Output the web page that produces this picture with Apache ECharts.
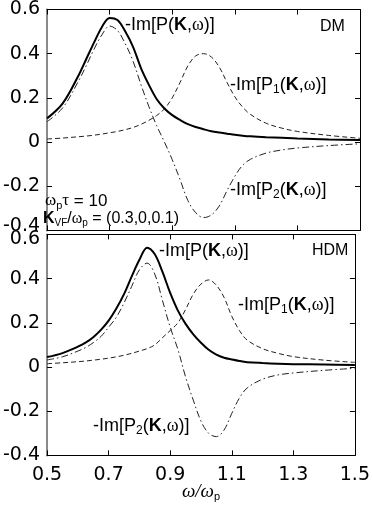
<!DOCTYPE html>
<html><head><meta charset="utf-8">
<script src="https://cdn.jsdelivr.net/npm/echarts@6/dist/echarts.min.js"></script>
<style>html,body{margin:0;padding:0;background:#fff}#c{width:373px;height:515px}</style>
</head><body><div id="c"></div>
<script>
const omega = [0.5,0.55,0.6,0.625,0.65,0.675,0.7,0.725,0.75,0.775,0.8,0.825,0.85,0.875,0.9,0.925,0.95,0.975,1.0,1.025,1.05,1.075,1.1,1.125,1.15,1.2,1.25,1.3,1.4,1.5];
// DM panel
const dmP  = [0.107,0.175,0.30,0.375,0.45,0.52,0.562,0.552,0.50,0.43,0.335,0.26,0.195,0.152,0.122,0.10,0.081,0.068,0.058,0.049,0.043,0.038,0.033,0.029,0.026,0.022,0.019,0.016,0.012,0.009];
const dmP1 = [0.014,0.018,0.024,0.027,0.031,0.036,0.042,0.048,0.056,0.066,0.08,0.098,0.12,0.15,0.20,0.27,0.345,0.39,0.40,0.385,0.34,0.27,0.205,0.158,0.125,0.085,0.063,0.048,0.03,0.017];
const dmP2 = [0.092,0.155,0.275,0.345,0.42,0.485,0.525,0.505,0.445,0.365,0.26,0.162,0.075,0.0,-0.08,-0.17,-0.265,-0.32,-0.342,-0.33,-0.29,-0.22,-0.155,-0.105,-0.078,-0.05,-0.036,-0.027,-0.016,-0.008];
// HDM panel
const hdmP  = [0.045,0.063,0.092,0.11,0.135,0.168,0.21,0.265,0.33,0.41,0.485,0.54,0.51,0.43,0.335,0.255,0.195,0.148,0.11,0.078,0.056,0.042,0.034,0.027,0.022,0.018,0.015,0.013,0.011,0.009];
const hdmP1 = [0.015,0.019,0.024,0.027,0.031,0.035,0.04,0.046,0.053,0.062,0.072,0.083,0.1,0.133,0.165,0.2,0.26,0.33,0.375,0.394,0.37,0.315,0.23,0.165,0.122,0.083,0.062,0.047,0.031,0.021];
const hdmP2 = [0.032,0.046,0.072,0.088,0.11,0.138,0.18,0.225,0.29,0.365,0.44,0.47,0.42,0.3,0.18,0.08,-0.045,-0.15,-0.245,-0.3,-0.315,-0.285,-0.21,-0.14,-0.095,-0.055,-0.036,-0.027,-0.015,-0.006];
const xTicks = [0.5,0.7,0.9,1.1,1.3,1.5];
const yMin = -0.4, yMax = 0.6, yStep = 0.2;

const chart = echarts.init(document.getElementById('c'), null, {renderer:'canvas'});
const TF = 'DejaVu Sans';
function fmtY(v){ if (Math.abs(v) < 1e-9) return '0'; return v.toFixed(1); }
function xAx(gi, pos, showLabel){
  return {type:'value', gridIndex:gi, position:pos, min:0.5, max:1.5,
    axisLine:{onZero:false, lineStyle:{color:'#000', width:1}},
    axisTick:{inside:true, length:5, customValues:xTicks, lineStyle:{color:'#000'}},
    axisLabel:{show:showLabel, customValues:xTicks, margin:10, color:'#000', fontSize:19, fontFamily:TF,
      formatter: v => String(Math.round(v*10)/10)},
    splitLine:{show:false}};
}
function yAx(gi, pos, showLabel){
  return {type:'value', gridIndex:gi, position:pos, min:yMin, max:yMax, interval:yStep,
    axisLine:{onZero:false, lineStyle: pos==='left' ? {color:'#8a8a8a', width:2} : {color:'#000', width:1}},
    axisTick:{inside:true, length:5, lineStyle:{color:'#000'}},
    axisLabel:{show:showLabel, margin:7, color:'#000', fontSize:19, fontFamily:TF,
      formatter: v => {
        if (gi===0 && Math.abs(v-yMin)<1e-6) return '{lo|' + fmtY(v) + '}';
        if (gi===1 && Math.abs(v-yMax)<1e-6) return '{hi|' + fmtY(v) + '}';
        return fmtY(v);
      },
      rich:{lo:{fontSize:19, fontFamily:TF, color:'#000', padding:[0,0,9,0]},
            hi:{fontSize:19, fontFamily:TF, color:'#000', padding:[9,0,0,0]}}},
    splitLine:{show:false}};
}
function pairs(ys){ return omega.map((w,i)=>[w, ys[i]]); }
const solid = {color:'#000', width:2};
const dashed = {color:'#222', width:1, type:[5,3]};
const dashdot = {color:'#222', width:1, type:[7,3,1.5,3]};
function ser(xi, yi, ys, ls, z){
  return {type:'line', xAxisIndex:xi, yAxisIndex:yi, data:pairs(ys), showSymbol:false, smooth:0.35,
    lineStyle:ls, z:z, silent:true};
}

const SANS='Liberation Sans', SERIF='Liberation Serif';
function rich(fs){
  const lh = fs+5;
  return {
    a:{fontSize:fs, fontFamily:SANS, fill:'#000', lineHeight:lh},
    k:{fontSize:fs, fontFamily:SANS, fontWeight:'bold', fill:'#000', lineHeight:lh},
    w:{fontSize:fs, fontFamily:SERIF, fill:'#000', lineHeight:lh},
    wi:{fontSize:fs+2, fontFamily:SERIF, fontStyle:'italic', fill:'#000', lineHeight:lh},
    s:{fontSize:Math.round(fs*0.65), fontFamily:SANS, fill:'#000', lineHeight:lh, verticalAlign:'bottom', padding:[0,0,1,0]}
  };
}
function txt(x, y, text, fs, align){
  return {type:'text', x:x, y:y, silent:true, z:10,
    style:{text:text, rich:rich(fs), fill:'#000', font: fs+'px '+SANS, align:align||'left', verticalAlign:'middle'}};
}

const option = {
  animation:false,
  backgroundColor:'#fff',
  grid:[{left:42, right:13, top:9.4, height:221}, {left:42, right:13, top:234.4, height:221}],
  xAxis:[xAx(0,'bottom',false), xAx(0,'top',false), xAx(1,'bottom',true), xAx(1,'top',false)],
  yAxis:[yAx(0,'left',true), yAx(0,'right',false), yAx(1,'left',true), yAx(1,'right',false)],
  series:[
    ser(0,0,dmP1,dashed,2), ser(0,0,dmP2,dashdot,2), ser(0,0,dmP,solid,3),
    ser(2,2,hdmP1,dashed,2), ser(2,2,hdmP2,dashdot,2), ser(2,2,hdmP,solid,3)
  ],
  graphic:[
    txt(125, 25, '{a|-Im[P(}{k|K}{a|,}{w|ω}{a|)]}', 18),
    txt(320, 27, '{a|DM}', 16),
    txt(230, 85, '{a|-Im[P}{s|1}{a|(}{k|K}{a|,}{w|ω}{a|)]}', 18),
    txt(230, 190, '{a|-Im[P}{s|2}{a|(}{k|K}{a|,}{w|ω}{a|)]}', 18),
    txt(45, 201, '{w|ω}{s|p}{w|τ}{a| = 10}', 17),
    txt(43, 219, '{k|K}{s|VF}{a|/}{w|ω}{s|p}{a| = (0.3,0,0.1)}', 16),
    txt(159, 251, '{a|-Im[P(}{k|K}{a|,}{w|ω}{a|)]}', 18),
    txt(312, 251, '{a|HDM}', 16),
    txt(238, 305, '{a|-Im[P}{s|1}{a|(}{k|K}{a|,}{w|ω}{a|)]}', 18),
    txt(93, 426, '{a|-Im[P}{s|2}{a|(}{k|K}{a|,}{w|ω}{a|)]}', 18),
    txt(201, 492, '{wi|ω}{wi|/}{wi|ω}{s|p}', 17, 'center')
  ]
};
chart.setOption(option);
</script></body></html>
